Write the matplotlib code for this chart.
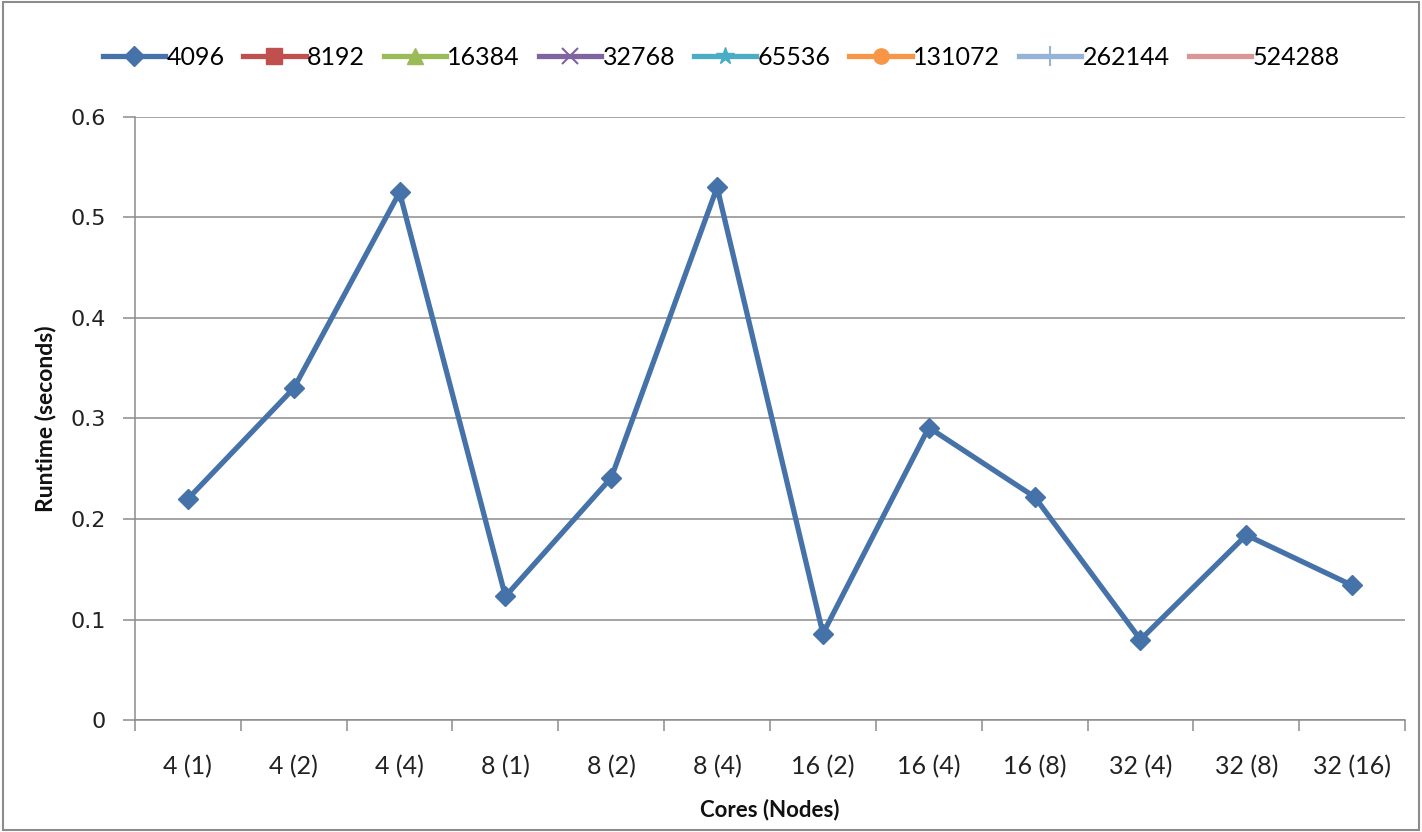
import matplotlib
matplotlib.use("Agg")
import matplotlib.pyplot as plt
from matplotlib.patches import Rectangle
from matplotlib.ticker import FixedLocator, NullFormatter

plt.rcParams['font.family'] = ['Lato', 'DejaVu Sans']

categories = ["4 (1)", "4 (2)", "4 (4)", "8 (1)", "8 (2)", "8 (4)",
              "16 (2)", "16 (4)", "16 (8)", "32 (4)", "32 (8)", "32 (16)"]
runtime_4096 = [0.22, 0.33, 0.525, 0.123, 0.241, 0.530,
                0.086, 0.291, 0.222, 0.080, 0.184, 0.134]

series_names = ["4096", "8192", "16384", "32768", "65536", "131072", "262144", "524288"]
series_colors = ["#4672AA", "#C0504D", "#9BBB59", "#8064A2", "#4BACC6", "#F79646", "#95B3D7", "#D99694"]
series_markers = ["D", "s", "^", "x", "*", "o", "|", None]
marker_sizes = [10, 11, 11, 12, 13, 11, 14, 0]

fig = plt.figure(figsize=(14.22, 8.32), dpi=100)
ax = fig.add_axes([0.0949, 0.1346, 0.8932, 0.7248])

x = list(range(len(categories)))
handles = []
for i, name in enumerate(series_names):
    if i == 0:
        ydata, xdata = runtime_4096, x
    else:
        ydata, xdata = [], []
    h, = ax.plot(xdata, ydata, color=series_colors[i], lw=3.8,
                 marker=series_markers[i], markersize=marker_sizes[i],
                 markeredgewidth=1.5 if series_markers[i] in ("x", "|") else 1,
                 markeredgecolor=series_colors[i], label=name, zorder=3)
    handles.append(h)

ax.set_xlim(-0.5, len(categories) - 0.5)
ax.set_ylim(0, 0.6)
ax.set_yticks([0, 0.1, 0.2, 0.3, 0.4, 0.5, 0.6])
ax.set_yticklabels(["0", "0.1", "0.2", "0.3", "0.4", "0.5", "0.6"], family='DejaVu Sans')
ax.grid(axis='y', color='#8C8C8C', lw=1.1, zorder=0)

ax.set_xticks(x)
ax.set_xticklabels(categories)
ax.xaxis.set_minor_locator(FixedLocator([i - 0.5 for i in range(len(categories) + 1)]))
ax.xaxis.set_minor_formatter(NullFormatter())
ax.tick_params(axis='x', which='major', length=0, pad=25, labelsize=18, labelcolor='#222222')
ax.tick_params(axis='x', which='minor', length=8, width=1.1, color='#8C8C8C', direction='out')
ax.tick_params(axis='y', length=9, width=1.1, color='#8C8C8C', direction='out', pad=12,
               labelsize=16, labelcolor='#222222')

for side in ("top", "right"):
    ax.spines[side].set_visible(False)
for side in ("left", "bottom"):
    ax.spines[side].set_color('#8C8C8C')
    ax.spines[side].set_linewidth(1.1)

ax.set_xlabel("Cores (Nodes)", fontsize=16, fontweight='bold', labelpad=15, color='#111111')
ax.set_ylabel("Runtime (seconds)", fontsize=16.5, fontweight='bold', labelpad=10, color='#111111')

fig.legend(handles=handles, labels=series_names, loc='center', bbox_to_anchor=(0.507, 0.931),
           ncol=8, frameon=False, fontsize=18, handlelength=2.5, handletextpad=0.05,
           columnspacing=0.75)

fig.patches.append(Rectangle((0.002, 0.003), 0.996, 0.994, transform=fig.transFigure,
                             fill=False, edgecolor='#8C8C8C', lw=1.5))

fig.savefig("out.png", dpi=100, facecolor='white')
